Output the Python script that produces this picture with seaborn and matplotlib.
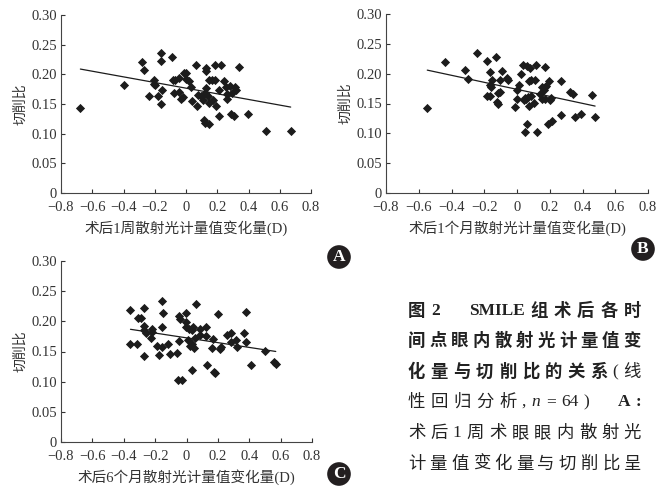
import matplotlib
matplotlib.use("Agg")
import matplotlib.pyplot as plt
import seaborn as sns
import numpy as np

# ---------------- data ----------------
A_x = [-0.676, -0.396, -0.283, -0.268, -0.159, -0.163, -0.087, -0.206, -0.202, -0.234,
       -0.178, -0.163, -0.153, -0.084, -0.072, -0.044, -0.080, -0.044, -0.031, -0.018,
       -0.014, 0.003, 0.001, 0.018, 0.029, 0.040, 0.061, 0.069, 0.076, 0.099,
       0.106, 0.121, 0.125, 0.129, 0.131, 0.114, 0.123, 0.150, 0.138, 0.146,
       0.150, 0.167, 0.172, 0.187, 0.221, 0.187, 0.193, 0.208, 0.208, 0.245,
       0.253, 0.262, 0.279, 0.288, 0.305, 0.311, 0.317, 0.296, 0.339, 0.394,
       0.510, 0.670, 0.265, -0.200]
A_y = [0.143, 0.182, 0.220, 0.207, 0.236, 0.223, 0.229, 0.191, 0.184, 0.163,
       0.163, 0.150, 0.173, 0.191, 0.191, 0.193, 0.169, 0.171, 0.159, 0.161,
       0.202, 0.203, 0.192, 0.188, 0.179, 0.155, 0.215, 0.146, 0.165, 0.163,
       0.157, 0.168, 0.177, 0.210, 0.206, 0.123, 0.118, 0.117, 0.163, 0.151,
       0.190, 0.191, 0.157, 0.216, 0.216, 0.191, 0.147, 0.129, 0.174, 0.189,
       0.179, 0.158, 0.181, 0.133, 0.130, 0.178, 0.173, 0.168, 0.213, 0.133,
       0.105, 0.105, 0.167, 0.182]

B_x = [-0.548, -0.440, -0.318, -0.300, -0.247, -0.182, -0.131, -0.186, -0.162, -0.166,
       -0.156, -0.162, -0.151, -0.125, -0.119, -0.115, -0.105, -0.105, -0.090, -0.062,
       -0.058, -0.013, -0.003, -0.001, 0.013, 0.025, 0.038, 0.044, 0.050, 0.058,
       0.060, 0.062, 0.070, 0.074, 0.078, 0.074, 0.086, 0.084, 0.103, 0.111,
       0.113, 0.123, 0.143, 0.153, 0.155, 0.162, 0.170, 0.176, 0.174, 0.190,
       0.200, 0.198, 0.206, 0.214, 0.271, 0.269, 0.322, 0.342, 0.357, 0.389,
       0.456, 0.477, 0.170, 0.048]
B_y = [0.142, 0.219, 0.206, 0.191, 0.234, 0.222, 0.228, 0.162, 0.202, 0.181,
       0.177, 0.163, 0.190, 0.153, 0.149, 0.167, 0.170, 0.190, 0.205, 0.193,
       0.190, 0.144, 0.172, 0.157, 0.181, 0.200, 0.215, 0.156, 0.103, 0.157,
       0.116, 0.213, 0.161, 0.146, 0.209, 0.188, 0.190, 0.162, 0.151, 0.190,
       0.215, 0.103, 0.166, 0.177, 0.157, 0.173, 0.177, 0.180, 0.212, 0.115,
       0.156, 0.187, 0.160, 0.121, 0.188, 0.131, 0.170, 0.166, 0.128, 0.133,
       0.164, 0.127, 0.158, 0.159]

C_x = [-0.357, -0.357, -0.314, -0.310, -0.287, -0.268, -0.272, -0.268, -0.261, -0.229,
       -0.221, -0.217, -0.187, -0.178, -0.157, -0.157, -0.149, -0.155, -0.117, -0.106,
       -0.062, -0.057, -0.028, -0.047, -0.042, -0.045, -0.006, -0.006, -0.002, 0.015,
       0.011, 0.021, 0.032, 0.036, 0.042, 0.038, 0.049, 0.053, 0.059, 0.085,
       0.085, 0.123, 0.127, 0.132, 0.161, 0.170, 0.180, 0.202, 0.212, 0.223,
       0.255, 0.282, 0.282, 0.318, 0.323, 0.367, 0.382, 0.382, 0.414, 0.499,
       0.556, 0.569, 0.174, -0.270]
C_y = [0.219, 0.162, 0.162, 0.205, 0.206, 0.222, 0.142, 0.192, 0.180, 0.172,
       0.188, 0.182, 0.159, 0.144, 0.158, 0.234, 0.214, 0.191, 0.162, 0.146,
       0.148, 0.103, 0.103, 0.209, 0.204, 0.167, 0.213, 0.199, 0.191, 0.187,
       0.169, 0.159, 0.163, 0.185, 0.191, 0.120, 0.155, 0.172, 0.228, 0.188,
       0.177, 0.176, 0.190, 0.127, 0.155, 0.170, 0.115, 0.212, 0.154, 0.158,
       0.177, 0.180, 0.165, 0.169, 0.158, 0.180, 0.216, 0.166, 0.127, 0.151,
       0.132, 0.130, 0.116, 0.185]

x_ticks = [-0.8, -0.6, -0.4, -0.2, 0, 0.2, 0.4, 0.6, 0.8]
x_tick_labels = ["\u22120.8", "\u22120.6", "\u22120.4", "\u22120.2", "0", "0.2", "0.4", "0.6", "0.8"]
y_ticks = [0, 0.05, 0.10, 0.15, 0.20, 0.25, 0.30]
y_tick_labels = ["0", "0.05", "0.10", "0.15", "0.20", "0.25", "0.30"]
y_label = "切削比"
x_labels = ["术后1周散射光计量值变化量(D)",
            "术后1个月散射光计量值变化量(D)",
            "术后6个月散射光计量值变化量(D)"]
badges = ["A", "B", "C"]

# ---------------- style ----------------
sns.set_theme(style="ticks")
SERIF_CJK = ["Liberation Serif", "Noto Sans CJK SC", "DejaVu Sans"]
plt.rcParams["font.family"] = SERIF_CJK
TXT = "#333333"

W, H = 669, 487
fig = plt.figure(figsize=(W / 100, H / 100), dpi=100)
fig.patch.set_facecolor("white")


def px_axes(l, r, t, b):
    return fig.add_axes([l / W, 1 - b / H, (r - l) / W, (b - t) / H])


ax_boxes = [(61, 311, 15, 193), (386, 648, 14, 193), (61, 312, 261, 442)]
data = [(A_x, A_y), (B_x, B_y), (C_x, C_y)]

for (l, r, t, b), (xs, ys), xl in zip(ax_boxes, data, x_labels):
    ax = px_axes(l, r, t, b)
    ax.set_facecolor("none")
    sns.regplot(x=np.array(xs), y=np.array(ys), ax=ax, ci=None, marker="D",
                scatter_kws=dict(s=22, color="#1c1c1c", linewidths=0, alpha=1),
                line_kws=dict(color="#1c1c1c", lw=0.9))
    ax.set_xlim(-0.8, 0.8)
    ax.set_ylim(0, 0.30)
    ax.set_xticks(x_ticks)
    ax.set_xticklabels(x_tick_labels)
    ax.set_yticks(y_ticks)
    ax.set_yticklabels(y_tick_labels)
    ax.tick_params(direction="in", length=3, width=0.8, labelsize=10.5,
                   colors=TXT)
    ax.tick_params(axis="x", pad=6)
    ax.tick_params(axis="y", pad=3)
    for s in ["top", "right"]:
        ax.spines[s].set_visible(False)
    for s in ["left", "bottom"]:
        ax.spines[s].set_color("#444444")
        ax.spines[s].set_linewidth(0.8)
    ax.set_xlabel(xl, fontsize=10.5, color=TXT, labelpad=4)
    ax.set_ylabel(y_label, fontsize=10, color=TXT, labelpad=3)
    ax.grid(False)

# badges
badge_pos = [(339, 257), (643, 249), (339, 474)]
for letter, (bx, by) in zip(badges, badge_pos):
    fig.text(bx / W, 1 - by / H, letter, ha="center", va="center", color="white",
             fontsize=12.5, fontweight="bold", family="Liberation Serif",
             bbox=dict(boxstyle="circle,pad=0.22", fc="#231f20", ec="none"))

# caption (justified lines)
CJK = "Noto Sans CJK SC"
LAT = "Liberation Serif"
FS = 12.5
cap_lines = [
    [("图", CJK, "bold", "normal"), ("2", LAT, "bold", "normal"), ("\u3000", CJK, "bold", "normal"),
     ("SMILE", LAT, "bold", "normal"), ("组", CJK, "bold", "normal"), ("术", CJK, "bold", "normal"),
     ("后", CJK, "bold", "normal"), ("各", CJK, "bold", "normal"), ("时", CJK, "bold", "normal")],
    [(c, CJK, "bold", "normal") for c in "间点眼内散射光计量值变"],
    [(c, CJK, "bold", "normal") for c in "化量与切削比的关系"] +
    [("(", LAT, "normal", "normal"), ("线", CJK, "normal", "normal")],
    [(c, CJK, "normal", "normal") for c in "性回归分析"] +
    [(",", LAT, "normal", "normal"), ("n", LAT, "normal", "italic"), ("=", LAT, "normal", "normal"),
     ("64", LAT, "normal", "normal"), (")", LAT, "normal", "normal"), ("\u3000", CJK, "normal", "normal"),
     ("A", LAT, "bold", "normal"), (":", LAT, "bold", "normal")],
    [("术", CJK, "normal", "normal"), ("后", CJK, "normal", "normal"), ("1", LAT, "normal", "normal")] +
    [(c, CJK, "normal", "normal") for c in "周术眼眼内散射光"],
    [(c, CJK, "normal", "normal") for c in "计量值变化量与切削比呈"],
]
line_y = [309, 339, 370, 400, 431, 462]
X0, X1 = 408, 641

renderer = fig.canvas.get_renderer()
for toks, yc in zip(cap_lines, line_y):
    objs = []
    for txt, fam, wt, st in toks:
        o = fig.text(X0 / W, 1 - yc / H, txt, fontsize=FS, family=fam, fontweight=wt,
                     fontstyle=st, color="#222222", ha="left", va="center_baseline")
        objs.append(o)
    widths = [o.get_window_extent(renderer).width for o in objs]
    gap = (X1 - X0 - sum(widths)) / (len(objs) - 1)
    x = X0
    for o, w in zip(objs, widths):
        o.set_x(x / W)
        x += w + gap

fig.savefig("out.png", dpi=100, facecolor="white")
